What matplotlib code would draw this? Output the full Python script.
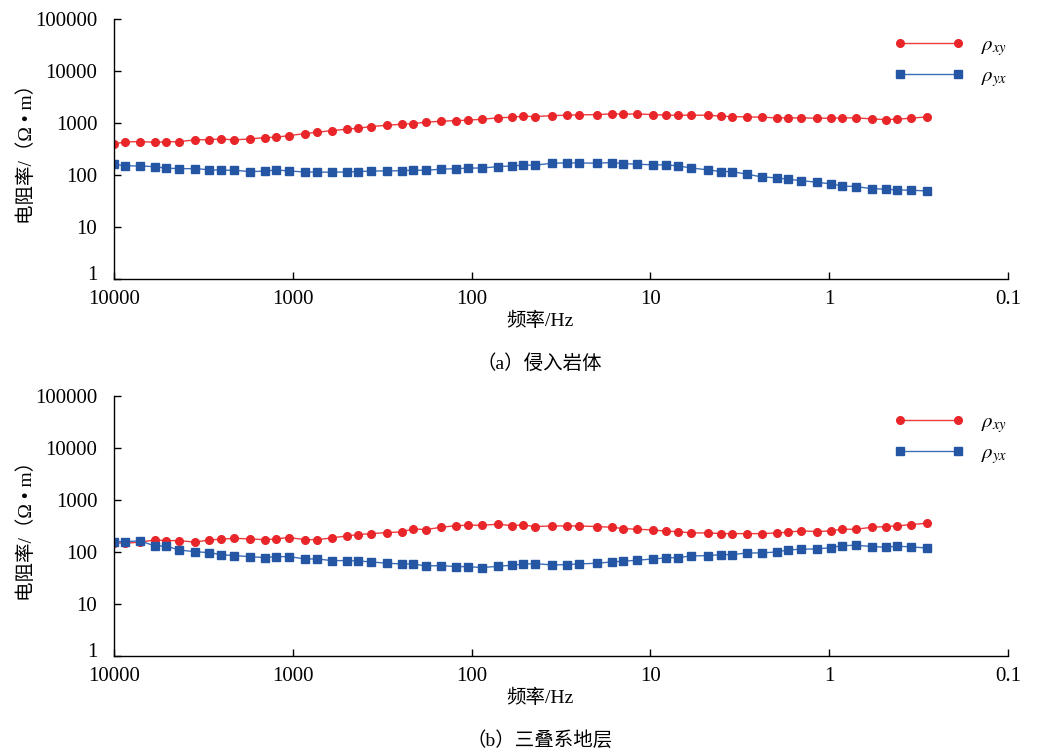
import matplotlib
matplotlib.use("Agg")
import matplotlib.pyplot as plt
import matplotlib.transforms as mtransforms

plt.rcParams['font.family'] = ['Liberation Serif', 'Noto Sans CJK SC', 'DejaVu Sans']
plt.rcParams['mathtext.fontset'] = 'stix'

# frequencies (Hz)
freq = [10000, 8680, 7155, 5898, 5120, 4330, 3524, 2942, 2521, 2133,
        1736, 1430, 1242, 1050, 855, 732, 604, 498, 432, 365,
        297, 245, 213, 180, 148, 122, 105, 87.5, 71.2, 59.4,
        51.6, 44.2, 35.5, 29.3, 25.1, 19.9, 16.4, 14.2, 11.9, 9.67,
        8.18, 7.01, 5.93, 4.76, 4.03, 3.50, 2.88, 2.38, 1.96, 1.70,
        1.44, 1.17, 0.977, 0.848, 0.708, 0.576, 0.481, 0.418, 0.349, 0.284]

# (a) intrusive rock
a_rxy = [395, 431, 437, 425, 431, 437, 471, 477, 492, 471,
         492, 522, 531, 570, 623, 662, 711, 757, 791, 849,
         903, 944, 970, 1031, 1078, 1107, 1128, 1178, 1248, 1288,
         1346, 1322, 1381, 1406, 1425, 1444, 1490, 1469, 1490, 1444,
         1406, 1406, 1406, 1406, 1346, 1322, 1304, 1288, 1248, 1248,
         1248, 1231, 1231, 1248, 1248, 1194, 1157, 1178, 1231, 1304]
a_ryx = [161, 149, 149, 144, 135, 132, 132, 126, 123, 123,
         116, 118, 125, 119, 114, 113, 113, 114, 116, 119,
         119, 121, 123, 123, 129, 132, 135, 136, 144, 149,
         154, 154, 168, 170, 170, 168, 173, 165, 161, 156,
         156, 149, 136, 125, 116, 116, 103, 91.6, 87.6, 82.7,
         77.7, 72.4, 67.1, 61.4, 59.6, 54.5, 53.1, 51.5, 50.8, 49.2]

# (b) Triassic strata
b_rxy = [150, 147, 154, 170, 165, 165, 154, 170, 175, 183,
         178, 172, 178, 189, 172, 172, 186, 203, 215, 225,
         235, 243, 277, 269, 298, 320, 326, 326, 341, 320,
         331, 307, 316, 316, 316, 307, 298, 281, 273, 265,
         250, 246, 232, 232, 225, 225, 225, 225, 232, 239,
         254, 246, 254, 273, 273, 298, 307, 316, 336, 356]
b_ryx = [158, 158, 163, 130, 130, 109, 101, 97, 88.8, 84.9,
         81.2, 77.8, 81.2, 81.2, 73.3, 73.3, 68.1, 68.1, 67.1, 64.2,
         60.6, 58.8, 58.8, 53.8, 54.6, 52.2, 52.2, 50.0, 53, 55.5,
         58, 59.7, 56.2, 57, 58.8, 60.6, 64.2, 66.2, 69.2, 73.3,
         76.7, 77.8, 83.8, 84.9, 88.8, 88.8, 95.6, 95.6, 100, 109,
         113, 114, 121, 132, 134, 127, 123, 129, 125, 119]

xticks = [10000, 1000, 100, 10, 1, 0.1]
xticklabels = ['10000', '1000', '100', '10', '1', '0.1']
yticks = [1, 10, 100, 1000, 10000, 100000]
yticklabels = ['1', '10', '100', '1000', '10000', '100000']

panels = [
    (a_rxy, a_ryx, '（a）侵入岩体', 0.630),
    (b_rxy, b_ryx, '（b）三叠系地层', 0.130),
]

fig = plt.figure(figsize=(10.42, 7.54), dpi=100)

for rxy, ryx, caption, bottom in panels:
    ax = fig.add_axes([0.1094, bottom, 0.858, 0.345])
    ax.plot(freq, rxy, color='#ee3b3b', lw=1.0, marker='o', ms=5.5,
            mfc='#e8262a', mec='#e8262a', label=r'$\rho_{xy}$')
    ax.plot(freq, ryx, color='#3b6db8', lw=1.0, marker='s', ms=5.5,
            mfc='#2456a4', mec='#2456a4', label=r'$\rho_{yx}$')
    ax.set_xscale('log')
    ax.set_yscale('log')
    ax.set_xlim(10000, 0.1)
    ax.set_ylim(1, 100000)
    ax.set_xticks(xticks)
    ax.set_xticklabels(xticklabels)
    ax.set_yticks(yticks)
    ax.set_yticklabels(yticklabels)
    ax.minorticks_off()
    ax.tick_params(direction='in', length=5, width=1, labelsize=15)
    ax.tick_params(axis='x', pad=8)
    ax.tick_params(axis='y', pad=12)
    # lift the lowest y label a little so it clears the x labels
    lab = ax.get_yticklabels()[0]
    lab.set_transform(lab.get_transform() +
                      mtransforms.ScaledTranslation(0, 6 / 100, fig.dpi_scale_trans))
    for s in ['top', 'right']:
        ax.spines[s].set_visible(False)
    for s in ['left', 'bottom']:
        ax.spines[s].set_linewidth(1.0)
    ax.set_xlabel('频率/Hz', fontsize=14)
    ax.xaxis.set_label_coords(0.476, -0.125)
    ax.set_ylabel('电阻率/（Ω • m）', fontsize=14)
    ax.yaxis.set_label_coords(-0.087, 0.5)
    ax.legend(loc='upper right', bbox_to_anchor=(1.009, 0.968), frameon=False,
              fontsize=15, handlelength=3.4, handletextpad=0.8, numpoints=2,
              labelspacing=0.45, borderaxespad=0)
    fig.text(0.518, bottom - 0.112, caption, ha='center', va='center', fontsize=14)

fig.savefig('out.png', dpi=100)
